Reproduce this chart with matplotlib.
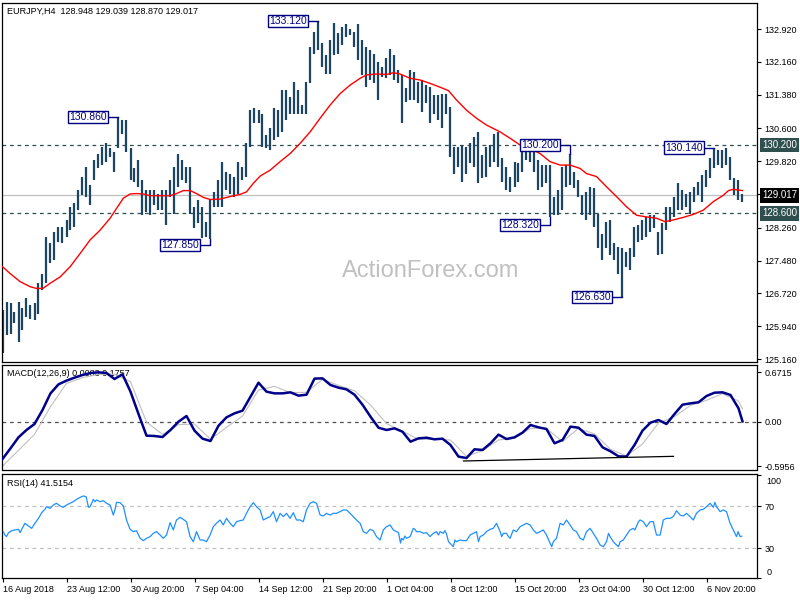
import numpy as np
import matplotlib
matplotlib.use("Agg")
import matplotlib.pyplot as plt
import matplotlib.transforms as mtransforms

plt.rcParams['font.family'] = ['Liberation Sans', 'DejaVu Sans']

# ---------------- data ----------------
# price bars (each bar here spans two H4 bars of the original)
bar_high = [
    126.32, 126.52, 126.48, 126.28, 126.52, 126.36, 126.60, 126.44, 126.48, 126.95,
    127.18, 128.05, 127.89, 128.16, 128.28, 128.28, 128.44, 128.75, 128.83, 129.14,
    129.46, 129.69, 129.26, 129.85, 130.00, 130.16, 130.24, 130.12, 130.04, 130.86,
    130.79, 130.79, 130.12, 129.65, 129.85, 129.38, 129.14, 129.14, 129.14, 129.06,
    129.14, 129.14, 129.38, 129.69, 130.00, 129.85, 129.69, 129.69, 128.75, 128.91,
    128.75, 128.40, 128.91, 129.10, 129.38, 129.81, 129.57, 129.53, 129.46, 129.81,
    129.69, 130.24, 131.02, 131.06, 131.02,
    130.94, 130.43, 130.59, 131.06, 131.02, 131.49, 131.49, 131.34, 131.69, 131.49,
    131.14, 131.69, 132.51, 132.86, 133.12, 132.59, 132.32, 132.67, 133.06, 132.83,
    132.98, 133.05, 132.94, 132.86, 133.04, 132.67, 132.51, 132.43, 132.35, 132.16,
    132.04, 132.24, 132.47, 132.32, 131.96, 131.85, 131.53, 131.96, 131.92, 131.69,
    131.73, 131.61, 131.57, 131.37, 131.37, 131.41, 131.41, 131.10, 130.16, 130.16,
    130.20, 130.16, 130.24, 130.40, 130.51, 129.97, 130.16, 130.20, 130.47, 130.51,
    129.89, 129.69, 129.46,
    129.81, 129.77, 130.04, 130.28, 130.28, 130.08, 129.85, 129.73, 129.73, 129.73,
    128.99, 129.14, 129.69, 129.73, 129.98, 129.57, 129.38, 129.02, 129.10, 129.22,
    129.18, 128.59, 128.12, 128.40, 128.44, 127.89, 127.81, 127.77, 127.69, 127.77,
    128.28, 128.32, 128.44, 128.52, 128.55, 128.55, 128.16, 128.36, 128.75, 128.75,
    128.99, 129.30, 129.14, 129.06, 129.10, 129.22, 129.34, 129.49, 129.61, 129.89,
    130.14, 130.08, 130.08, 130.12, 129.93, 129.42, 129.38, 129.04,
]
bar_low = [
    125.30, 125.73, 125.77, 126.01, 125.58, 125.85, 126.16, 126.12, 126.09, 126.24,
    126.79, 126.95, 127.42, 127.50, 127.93, 127.89, 128.05, 128.20, 128.28, 128.67,
    129.02, 128.99, 128.79, 129.38, 129.65, 129.73, 129.81, 129.93, 129.57, 130.12,
    130.47, 130.04, 129.38, 129.34, 129.22, 128.55, 128.63, 128.55, 128.79, 128.67,
    128.67, 128.32, 128.99, 128.59, 129.22, 129.38, 129.30, 128.59, 128.24, 128.36,
    128.01, 128.05, 128.00, 128.75, 128.75, 128.75, 129.14, 129.06, 128.99, 129.06,
    129.38, 129.46, 130.16, 130.71, 130.71,
    130.16, 130.12, 130.08, 130.32, 130.40, 130.51, 130.79, 130.94, 130.94, 130.94,
    130.94, 130.94, 131.65, 132.35, 132.43, 132.04, 131.88, 131.88, 132.32, 132.35,
    132.55, 132.75, 132.79, 132.51, 132.20, 131.85, 131.57, 131.73, 131.65, 131.26,
    131.81, 131.77, 131.85, 131.73, 131.65, 130.71, 131.22, 131.26, 131.26, 131.18,
    130.98, 131.18, 130.71, 130.94, 130.79, 130.59, 130.94, 129.93, 129.53, 129.69,
    129.34, 129.53, 129.77, 129.69, 129.30, 129.42, 129.46, 129.69, 129.81, 129.69,
    129.34, 129.14, 129.10,
    129.22, 129.34, 129.57, 129.85, 129.81, 129.57, 129.14, 129.22, 129.30, 128.50,
    128.55, 128.55, 128.67, 129.22, 129.26, 129.18, 128.99, 128.55, 128.44, 128.55,
    128.28, 127.77, 127.50, 127.77, 127.61, 127.50, 127.18, 126.63, 127.34, 127.26,
    127.57, 127.93, 127.97, 128.05, 128.16, 128.24, 127.61, 127.65, 128.20, 128.40,
    128.52, 128.67, 128.67, 128.75, 128.59, 128.87, 129.02, 128.87, 129.22, 129.42,
    129.65, 129.73, 129.65, 129.73, 129.38, 129.02, 128.91, 128.87,
]

# moving average (red): bar position and value of each reading
ma_bar = [
    0.0, 1.9, 4.4, 6.9, 8.5, 10.1, 11.9, 14.4, 16.9, 19.4, 21.9, 24.4, 26.9, 28.5,
    30.2, 31.9, 33.5, 35.2, 36.9, 39.4, 41.9, 43.5, 45.2, 46.9, 48.5, 50.2, 51.9,
    54.4, 56.9, 59.4, 61.0, 62.7, 64.4, 66.9, 69.4, 71.9, 74.4, 76.9, 79.4, 81.9,
    84.4, 86.9, 89.4, 91.0, 93.5, 96.0, 97.7, 99.4, 101.9, 104.4, 106.9, 109.4,
    111.5, 113.5, 116.0, 118.5, 121.0, 124.4, 126.9, 129.4, 131.9, 134.4, 136.9,
    139.4, 141.9, 144.4, 146.0, 148.5, 151.0, 153.5, 156.0, 158.5, 161.0, 163.5,
    165.6, 167.7, 170.2, 172.7, 175.2, 177.7, 180.2, 181.5, 182.7, 185.0,
]
ma_values = [
    127.34, 127.18, 126.99, 126.87, 126.83, 126.83, 126.95, 127.10, 127.34, 127.65,
    127.97, 128.20, 128.48, 128.71, 128.95, 129.05, 129.06, 129.05, 129.01, 129.01,
    129.01, 129.06, 129.13, 129.13, 129.06, 128.97, 128.92, 128.93, 128.99, 129.04,
    129.10, 129.30, 129.47, 129.61, 129.81, 130.00, 130.24, 130.51, 130.83, 131.14,
    131.41, 131.61, 131.77, 131.85, 131.87, 131.86, 131.90, 131.87, 131.77, 131.73,
    131.65, 131.56, 131.48, 131.26, 131.02, 130.83, 130.67, 130.51, 130.36, 130.20,
    130.12, 130.00, 129.81, 129.73, 129.73, 129.65, 129.53, 129.46, 129.22, 128.99,
    128.75, 128.55, 128.51, 128.48, 128.40, 128.44, 128.50, 128.57, 128.67, 128.87,
    129.02, 129.13, 129.16, 129.13,
]

# MACD main line, one reading every 2 bars plus the last bar
macd_values = [
    -0.500, -0.356, -0.207, -0.108, -0.027, 0.162, 0.387, 0.509, 0.559, 0.599,
    0.635, 0.662, 0.671, 0.662, 0.581, 0.644, 0.410, 0.108, -0.185, -0.189,
    -0.203, -0.108, 0.004, 0.081, -0.117, -0.225, -0.257, -0.050, 0.063, 0.117,
    0.153, 0.342, 0.531, 0.410, 0.387, 0.387, 0.401, 0.356, 0.369, 0.586,
    0.590, 0.500, 0.464, 0.441, 0.369, 0.234, 0.072, -0.077, -0.108, -0.086,
    -0.131, -0.266, -0.221, -0.212, -0.234, -0.225, -0.311, -0.468, -0.487, -0.369,
    -0.378, -0.288, -0.171, -0.230, -0.207, -0.144, -0.041, -0.072, -0.095, -0.288,
    -0.243, -0.063, -0.077, -0.171, -0.189, -0.342, -0.396, -0.464, -0.468, -0.311,
    -0.117, -0.009, 0.027, -0.027, 0.108, 0.234, 0.252, 0.266, 0.351, 0.396,
    0.401, 0.365, 0.185, 0.008,
]
# MACD signal line, one reading every 4 bars plus the last bar
signal_values = [
    -0.596, -0.383, -0.167, 0.207, 0.522, 0.599, 0.644, 0.644, 0.545, 0.000,
    -0.167, -0.036, -0.027, -0.234, -0.072, 0.081, 0.432, 0.482, 0.396, 0.401,
    0.577, 0.495, 0.423, 0.230, -0.022, -0.126, -0.234, -0.234, -0.243, -0.464,
    -0.387, -0.243, -0.221, -0.086, -0.086, -0.266, -0.086, -0.162, -0.369, -0.459,
    -0.297, -0.013, 0.072, 0.225, 0.293, 0.383, 0.284, 0.176,
]
# MACD trend line drawn under the lows (bar index, value)
trend_bars = [115.25, 167.75]
trend_values = [-0.527, -0.464]

# RSI(14): bar position and value of each reading
rsi_bar = [
    0.2, 0.6, 1.0, 1.5, 2.3, 3.1, 4.0, 4.4, 4.8, 5.6, 6.5, 7.3, 8.1, 9.0, 9.8,
    10.6, 11.0, 11.9, 12.7, 13.5, 14.4, 15.2, 16.0, 16.9, 17.7, 18.5, 19.4, 20.2,
    20.9, 21.5, 21.9, 22.3, 22.7, 23.1, 23.5, 24.4, 25.2, 26.0, 26.9, 27.7, 28.1,
    28.5, 29.4, 30.2, 31.0, 31.9, 32.7, 33.5, 34.4, 35.2, 36.0, 36.9, 37.7, 38.5,
    39.4, 40.2, 41.0, 41.9, 42.7, 43.5, 44.4, 45.2, 46.0, 46.9, 47.7, 48.5, 49.4,
    50.2, 51.0, 51.9, 52.7, 53.5, 54.4, 55.2, 56.0, 56.9, 57.7, 58.5, 59.4, 60.2,
    61.0, 61.9, 62.7, 63.5, 64.4, 65.2, 66.0, 66.9, 67.7, 68.5, 69.4, 70.2, 71.0,
    71.9, 72.7, 73.5, 74.4, 75.2, 76.0, 76.9, 77.7, 78.5, 79.4, 80.2, 81.0, 81.9,
    82.7, 83.5, 84.4, 85.2, 86.0, 86.9, 87.7, 88.5, 89.4, 90.2, 91.0, 91.9, 92.7,
    93.5, 94.4, 95.2, 96.0, 96.9, 97.7, 98.5, 99.0, 99.5, 99.8, 100.2, 100.6,
    101.0, 101.9, 102.7, 103.1, 103.5, 104.4, 105.2, 106.0, 106.9, 107.7, 108.5,
    109.0, 109.4, 110.2, 110.6, 111.0, 111.5, 111.9, 112.7, 113.1, 113.5, 114.4,
    115.2, 116.0, 116.9, 117.7, 118.5, 119.0, 119.4, 120.2, 121.0, 121.9, 122.7,
    123.5, 124.4, 124.8, 125.2, 126.0, 126.5, 126.9, 127.7, 128.5, 129.4, 130.2,
    131.0, 131.9, 132.7, 133.5, 134.4, 135.2, 136.0, 136.9, 137.3, 137.7, 138.5,
    139.4, 140.2, 141.0, 141.9, 142.7, 143.5, 144.4, 145.2, 146.0, 146.9, 147.7,
    148.5, 149.4, 150.2, 151.0, 151.5, 151.9, 152.7, 153.5, 154.0, 154.4, 155.2,
    156.0, 156.9, 157.7, 158.1, 159.0, 159.4, 160.2, 161.0, 161.9, 162.7, 163.5,
    164.4, 165.2, 166.0, 166.9, 167.7, 168.5, 169.4, 170.2, 171.0, 171.9, 172.7,
    173.5, 174.4, 175.2, 176.0, 176.9, 177.7, 178.1, 178.5, 179.4, 180.2, 181.0,
    181.9, 182.7, 183.5, 183.9, 184.4, 184.8,
]
rsi_values = [
    45.8, 42.6, 41.1, 44.8, 46.7, 47.4, 48.0, 44.8, 48.0, 53.7, 51.2, 48.9, 53.7,
    58.4, 63.7, 66.9, 69.4, 67.8, 71.0, 72.6, 70.1, 68.8, 71.0, 72.6, 74.1, 76.3,
    78.2, 79.5, 78.9, 68.8, 69.4, 72.6, 76.3, 74.1, 75.7, 74.1, 75.1, 72.6, 71.0,
    61.5, 66.3, 73.5, 73.2, 70.1, 56.8, 48.0, 45.8, 46.7, 39.5, 37.3, 39.5, 41.1,
    44.2, 45.8, 42.6, 39.5, 42.6, 54.3, 47.4, 56.8, 59.3, 57.4, 55.2, 41.1, 36.3,
    45.8, 37.9, 37.9, 36.3, 42.6, 50.5, 53.7, 56.8, 52.1, 58.4, 53.7, 50.5, 55.2,
    56.2, 56.8, 63.1, 69.4, 73.2, 69.4, 66.3, 56.8, 58.4, 60.0, 64.7, 55.2, 63.1,
    60.0, 63.1, 58.4, 63.7, 56.8, 56.8, 55.2, 66.3, 72.6, 74.1, 72.6, 61.5, 60.6,
    63.1, 61.5, 63.1, 63.1, 64.7, 66.3, 66.3, 63.1, 60.0, 56.8, 53.7, 45.8, 44.2,
    48.0, 46.7, 41.1, 37.9, 47.4, 50.5, 52.1, 47.4, 45.8, 45.0, 35.0, 39.5, 37.9,
    41.7, 39.5, 41.1, 48.9, 48.0, 45.8, 45.8, 44.2, 44.8, 41.1, 44.2, 45.8, 42.6,
    45.8, 44.2, 46.7, 43.6, 36.3, 34.8, 31.6, 37.9, 36.3, 37.9, 37.3, 37.3, 42.6,
    44.2, 45.8, 36.3, 41.1, 42.6, 45.8, 48.0, 48.9, 53.7, 45.8, 41.1, 44.2, 44.2,
    41.1, 39.5, 47.4, 45.8, 50.5, 52.1, 53.7, 52.1, 47.4, 44.2, 45.8, 47.4, 42.6,
    34.8, 31.6, 36.3, 39.5, 53.7, 52.1, 56.8, 52.1, 47.4, 45.8, 39.5, 37.9, 45.8,
    48.9, 44.2, 39.5, 33.2, 31.6, 36.3, 44.2, 41.1, 36.3, 33.2, 31.6, 36.3, 37.9,
    42.6, 47.4, 48.9, 47.4, 55.2, 56.8, 55.2, 50.5, 55.2, 55.2, 42.6, 42.6, 56.8,
    58.4, 58.4, 60.0, 65.6, 61.5, 60.6, 63.1, 60.0, 56.8, 63.1, 66.3, 66.9, 69.4,
    72.6, 68.8, 73.5, 69.4, 64.7, 66.3, 64.7, 53.7, 47.4, 41.1, 45.8, 41.1, 41.5,
]

# annotations on the price panel
label_texts = ['130.860', '133.120', '127.850', '130.200', '128.320', '126.630', '130.140']
label_values = [130.86, 133.12, 127.85, 130.20, 128.32, 126.63, 130.14]
label_bars = [29, 79, 52, 142, 137, 155, 178]
label_at_high = [True, True, False, True, False, False, True]

resistance = 130.200
support = 128.600
last_price = 129.017

price_ticks = [132.920, 132.160, 131.380, 130.600, 129.820, 129.040,
               128.260, 127.480, 126.720, 125.940, 125.160]
date_labels = ['16 Aug 2018', '23 Aug 12:00', '30 Aug 20:00', '7 Sep 04:00',
               '14 Sep 12:00', '21 Sep 20:00', '1 Oct 04:00', '8 Oct 12:00',
               '15 Oct 20:00', '23 Oct 04:00', '30 Oct 12:00', '6 Nov 20:00']

# ---------------- figure ----------------
W, H = 800, 600
fig = plt.figure(figsize=(8, 6), dpi=100)


def axrect(x0, y0, x1, y1):
    return [x0 / W, 1 - y1 / H, (x1 - x0) / W, (y1 - y0) / H]


ax1 = fig.add_axes(axrect(2, 3, 757.5, 362))
ax2 = fig.add_axes(axrect(2, 364.5, 757.5, 469.5))
ax3 = fig.add_axes(axrect(2, 474.3, 757.5, 578.3))

n = len(bar_high)
xb = np.arange(n)
last = n - 1
x_macd = np.r_[np.arange(0, last, 2), last]
x_sig = np.r_[np.arange(0, last, 4), last]

xmin = -0.125
xmax = xmin + 755.5 / 4
FS = 6.5
for ax in (ax1, ax2, ax3):
    ax.set_xlim(xmin, xmax)
    ax.yaxis.tick_right()
    ax.tick_params(axis='y', direction='out', length=3, width=0.8,
                   labelsize=FS, pad=2, colors='black')
    for s in ax.spines.values():
        s.set_linewidth(0.9)
        s.set_color('black')
    ax.set_facecolor('white')
ax1.tick_params(axis='x', bottom=False, labelbottom=False)
ax2.tick_params(axis='x', bottom=False, labelbottom=False)

# ---- price panel ----
ax1.set_ylim(125.10, 133.54)
fig.text(431 / W, 1 - 271 / H, 'ActionForex.com', ha='center', va='center',
         fontsize=17, color='#C0C0C0', family='Liberation Sans', zorder=0)
ax1.axhline(resistance, color='#2F4F4F', lw=0.9, ls=(0, (3, 3)), zorder=1)
ax1.axhline(support, color='#2F4F4F', lw=0.9, ls=(0, (3, 3)), zorder=1)
ax1.axhline(last_price, color='#C0C0C0', lw=0.9, zorder=1)
ax1.vlines(xb, bar_low, bar_high, color='#1C4563', lw=1.6, zorder=2)
ax1.plot(ma_bar, ma_values, color='#FF0000', lw=1.0, zorder=3)

ax1.set_yticks(price_ticks)
ax1.set_yticklabels(['%.3f' % v if abs(v - 129.04) > 1e-6 else '' for v in price_ticks])

for txt, val, k, hi in zip(label_texts, label_values, label_bars, label_at_high):
    end = bar_high[k] if hi else bar_low[k]
    ax1.text(k - 2.95, val, txt, ha='right', va='center', fontsize=7.5,
             color='#000080', zorder=6,
             bbox=dict(boxstyle='square,pad=0.12', fc='white', ec='#000080', lw=1.0))
    ax1.plot([k - 2.5, k, k], [val, val, end], color='#000080', lw=1.0, zorder=5)

blend1 = mtransforms.blended_transform_factory(ax1.transAxes, ax1.transData)
for val, fc in ((resistance, '#2F4F4F'), (last_price, '#000000'), (support, '#2F4F4F')):
    ax1.text(1.006, val, '%.3f' % val, transform=blend1, ha='left', va='center',
             fontsize=FS + 0.5, color='white', clip_on=False, zorder=10,
             bbox=dict(boxstyle='square,pad=0.25', fc=fc, ec='none'))

ax1.text((7 - 2) / 755.5, (362 - 11) / 359, 'EURJPY,H4  128.948 129.039 128.870 129.017',
         transform=ax1.transAxes, ha='left', va='center', fontsize=FS, color='black')

# ---- MACD panel ----
ax2.set_ylim(-0.642, 0.777)
ax2.axhline(0, color='#505050', lw=0.9, ls=(0, (3, 3)), zorder=1)
ax2.text((7 - 2) / 755.5, (469.5 - 373) / 105, 'MACD(12,26,9) 0.0083 0.1757',
         transform=ax2.transAxes, ha='left', va='center', fontsize=FS, color='black', zorder=1)
ax2.plot(x_sig, signal_values, color='#C0C0C0', lw=0.8, zorder=2)
ax2.plot(x_macd, macd_values, color='#00008B', lw=1.8, zorder=3)
ax2.plot(trend_bars, trend_values, color='black', lw=0.9, zorder=4)
ax2.set_yticks([0.6715, 0.0, -0.5956])
ax2.set_yticklabels(['0.6715', '0.00', '-0.5956'])

# ---- RSI panel ----
ax3.set_ylim(1.7, 100)
ax3.axhline(70, color='#C0C0C0', lw=0.9, ls=(0, (3, 3)), zorder=1)
ax3.axhline(30, color='#C0C0C0', lw=0.9, ls=(0, (3, 3)), zorder=1)
ax3.plot(rsi_bar, rsi_values, color='#1E90FF', lw=0.9, zorder=3)
ax3.text((7 - 2) / 755.5, (578.3 - 484) / 104, 'RSI(14) 41.5154',
         transform=ax3.transAxes, ha='left', va='center', fontsize=FS, color='black')
ax3.set_yticks([99.5, 70, 30, 2.2])
ax3.set_yticklabels(['', '70', '30', ''])
blend3 = mtransforms.blended_transform_factory(ax3.transAxes, ax3.transData)
ax3.text(1.012, 93, '100', transform=blend3, ha='left', va='center', fontsize=FS, clip_on=False)
ax3.text(1.012, 7, '0', transform=blend3, ha='left', va='center', fontsize=FS, clip_on=False)

tick_pos = [0.2 + 16 * j for j in range(len(date_labels))]
ax3.set_xticks(tick_pos)
ax3.set_xticklabels(date_labels, ha='left')
ax3.tick_params(axis='x', direction='out', length=3, width=0.8, labelsize=FS, pad=1.5)

fig.savefig('out.png', dpi=100)
